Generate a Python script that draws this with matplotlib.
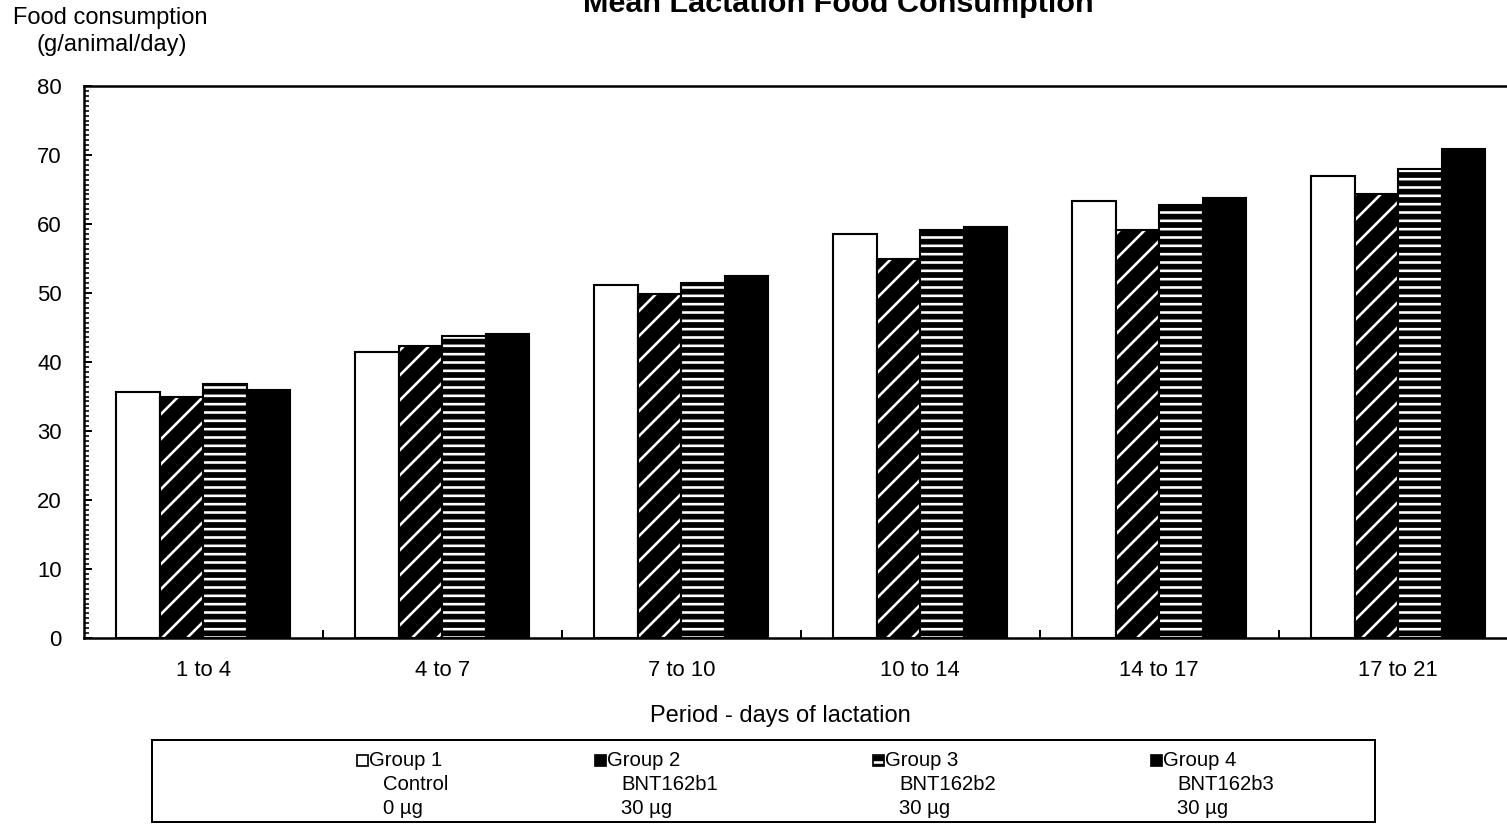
import numpy as np
import matplotlib.pyplot as plt
from matplotlib.patches import Rectangle
from matplotlib.ticker import AutoMinorLocator, FixedLocator

# Mean lactation food consumption (g/animal/day)
periods = ["1 to 4", "4 to 7", "7 to 10", "10 to 14", "14 to 17", "17 to 21"]
group1 = [35.6, 41.5, 51.1, 58.6, 63.4, 66.9]
group2 = [35.0, 42.3, 49.8, 55.0, 59.2, 64.4]
group3 = [36.8, 43.7, 51.4, 59.2, 62.8, 67.9]
group4 = [36.0, 44.1, 52.4, 59.6, 63.7, 70.9]

group_names = ["Group 1", "Group 2", "Group 3", "Group 4"]
treatments = ["Control", "BNT162b1", "BNT162b2", "BNT162b3"]
doses = ["0 µg", "30 µg", "30 µg", "30 µg"]

W, H = 1507, 825
DPI = 150  # hatch spacing follows the dpi, 150 gives the right stripe density


def px(v):
    # pixels -> points
    return v * 72 / DPI


def fx(p):
    return p / W


def fy(p):
    return 1 - p / H


plt.rcParams['font.family'] = ['Liberation Sans', 'DejaVu Sans']
plt.rcParams['hatch.linewidth'] = px(2.6)

# face colour, hatch colour, hatch pattern for each group
styles = [
    ("white", "white", None),
    ("black", "white", "//"),
    ("black", "white", "---"),
    ("black", "black", None),
]

fig = plt.figure(figsize=(W / DPI, H / DPI), dpi=DPI)
# axes runs past the right edge of the picture, as in the original
ax = fig.add_axes([fx(84), fy(638), fx(1517.5) - fx(84), fy(86) - fy(638)])

x = np.arange(len(periods))
bw = 0.182
all_groups = [group1, group2, group3, group4]
for i, vals in enumerate(all_groups):
    face, hc, hatch = styles[i]
    pos = x + (i - 1.5) * bw
    ax.bar(pos, vals, bw, color=face, edgecolor=hc, hatch=hatch, linewidth=0)
    ax.bar(pos, vals, bw, fill=False, edgecolor="black", linewidth=px(2.1))

ax.set_xlim(-0.5, len(periods) - 0.5)
ax.set_ylim(0, 80)
ax.set_yticks(range(0, 81, 10))
ax.yaxis.set_minor_locator(AutoMinorLocator(14))
ax.set_xticks(x)
ax.set_xticklabels(periods)
ax.xaxis.set_minor_locator(FixedLocator(x[:-1] + 0.5))

ax.tick_params(axis="y", which="major", direction="in", length=px(8),
               width=px(2), pad=px(22), labelsize=px(22.2))
ax.tick_params(axis="y", which="minor", direction="in", length=px(5),
               width=px(1.6))
ax.tick_params(axis="x", which="major", length=0, pad=px(22),
               labelsize=px(22.2))
ax.tick_params(axis="x", which="minor", direction="in", length=px(8),
               width=px(2))
for side in ["left", "bottom", "top", "right"]:
    ax.spines[side].set_linewidth(px(2.5))

# texts
fig.text(fx(838), fy(12), "Mean Lactation Food Consumption", ha="center",
         va="baseline", fontsize=px(30.5), fontweight="bold")
fig.text(fx(110), fy(18), "Food consumption", ha="center", va="center",
         fontsize=px(23.6))
fig.text(fx(112), fy(45), "(g/animal/day)", ha="center", va="center",
         fontsize=px(23.6))
fig.text(fx(780), fy(716), "Period - days of lactation", ha="center",
         va="center", fontsize=px(23.6))

# legend box
fig.add_artist(Rectangle((fx(152), fy(822)), fx(1375) - fx(152),
                         fy(740) - fy(822), transform=fig.transFigure,
                         fill=False, edgecolor="black", linewidth=px(2)))
icon_x = [357, 595, 873, 1151]
for i in range(4):
    face, hc, hatch = styles[i]
    ix = icon_x[i]
    fig.add_artist(Rectangle((fx(ix), fy(766)), fx(11), 11 / H,
                             transform=fig.transFigure, facecolor=face,
                             edgecolor=hc, hatch=hatch, linewidth=0))
    fig.add_artist(Rectangle((fx(ix), fy(766)), fx(11), 11 / H,
                             transform=fig.transFigure, fill=False,
                             edgecolor="black", linewidth=px(1.7)))
    fig.text(fx(ix + 12), fy(760), group_names[i], ha="left", va="center",
             fontsize=px(20.3))
    fig.text(fx(ix + 26), fy(784), treatments[i], ha="left", va="center",
             fontsize=px(20.3))
    fig.text(fx(ix + 26), fy(808), doses[i], ha="left", va="center",
             fontsize=px(20.3))

fig.savefig("out.png", dpi=DPI)
